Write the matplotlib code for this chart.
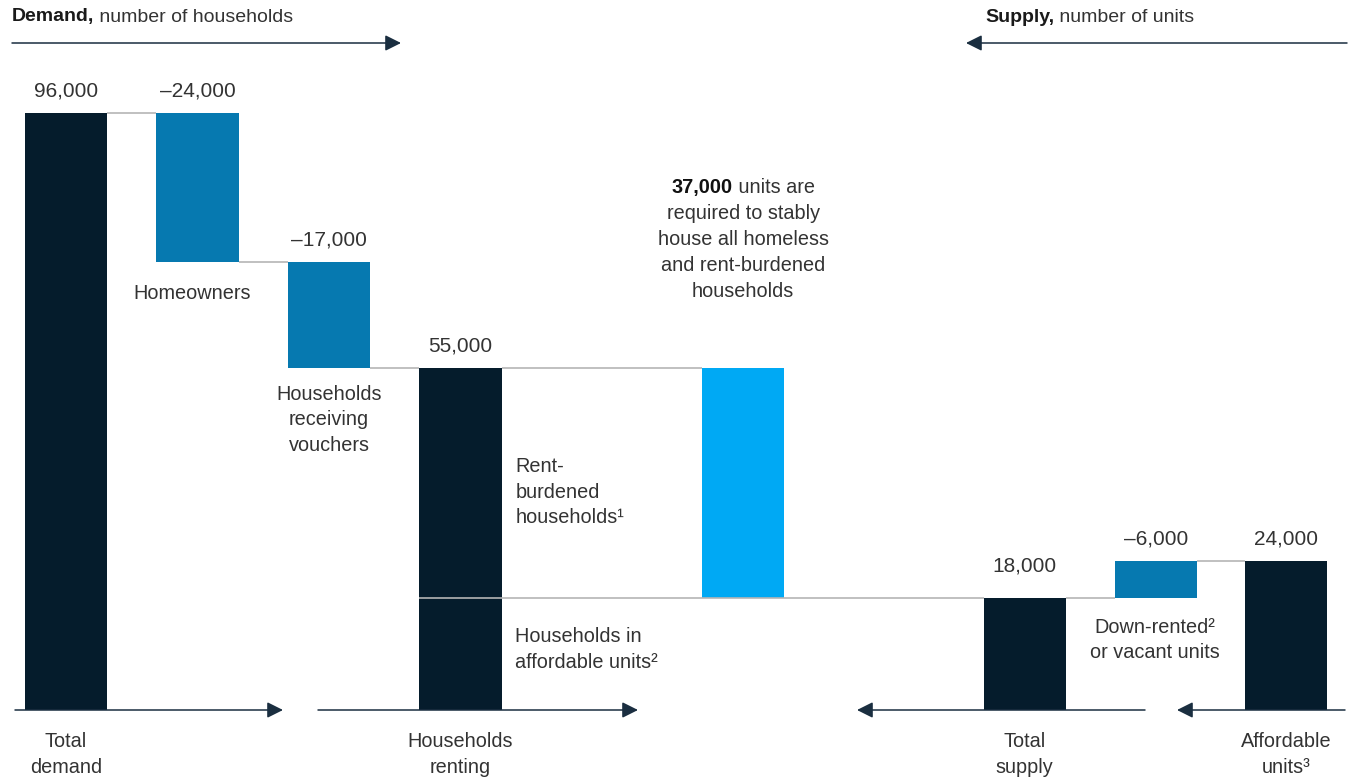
import matplotlib
matplotlib.use('Agg')
import matplotlib.pyplot as plt
from matplotlib.transforms import blended_transform_factory

# ------------------------------------------------------------
# Data
# ------------------------------------------------------------
categories = ['Total demand', 'Homeowners', 'Households receiving vouchers',
              'Households renting', 'Gap', 'Total supply',
              'Down-rented or vacant units', 'Affordable units']
values = [96000, -24000, -17000, 55000, 37000, 18000, -6000, 24000]
kinds = ['total', 'delta', 'delta', 'total', 'gap', 'total', 'delta', 'total']
renting_affordable = 18000   # households in affordable units (lower part of renting bar)

# ------------------------------------------------------------
# Styling / layout
# ------------------------------------------------------------
NAVY = '#051c2c'
MID_BLUE = '#0679b0'
LIGHT_BLUE = '#00a9f4'
GREY = '#b5b5b5'
TEXT = '#333333'
ARROW = '#1a2e40'

plt.rcParams['font.family'] = ['Liberation Sans', 'DejaVu Sans']

FS = 14.3        # label font size
LS = 1.45        # line spacing for multi-line labels

xpos = [0, 1, 2, 3, 5.15, 7.29, 8.29, 9.28]
width = 0.624

# ------------------------------------------------------------
# Bar extents (bottom, top) for the waterfall
# ------------------------------------------------------------
bottoms, tops = [], []
level = 0
for i, (v, k) in enumerate(zip(values, kinds)):
  if k == 'total':
    b, t = 0, v
    level = v
  elif k == 'gap':
    b, t = values[5], values[5] + v
  else:
    if i < 4:
      b, t = level + v, level
      level = level + v
    else:
      # supply side reads right to left: affordable units minus down-rented
      b, t = values[i + 1] + v, values[i + 1]
  bottoms.append(b)
  tops.append(t)

colors = [{'total': NAVY, 'delta': MID_BLUE, 'gap': LIGHT_BLUE}[k] for k in kinds]

# ------------------------------------------------------------
# Figure
# ------------------------------------------------------------
fig = plt.figure(figsize=(13.56, 7.8), dpi=100)
ax = fig.add_axes([0, 0, 1, 1])
ax.set_xlim(-0.502, 9.81)
ax.set_ylim(-11256, 114170)
ax.axis('off')

heights = [t - b for b, t in zip(bottoms, tops)]
ax.bar(xpos, heights, bottom=bottoms, width=width, color=colors, zorder=2)

# Connector lines between bars
def connector(x0, x1, y, z=1):
  ax.plot([x0, x1], [y, y], color=GREY, lw=1.2, zorder=z, solid_capstyle='butt')

hw = width / 2
connector(xpos[0] + hw, xpos[1] - hw, tops[0])
connector(xpos[1] + hw, xpos[2] - hw, bottoms[1])
connector(xpos[2] + hw, xpos[3] - hw, bottoms[2])
connector(xpos[3] + hw, xpos[4] - hw, tops[3])
connector(xpos[3] - hw, xpos[5] - hw, renting_affordable, z=3)
connector(xpos[5] + hw, xpos[6] - hw, tops[5])
connector(xpos[6] + hw, xpos[7] - hw, tops[7])

# Value labels above bars
for i, (v, k) in enumerate(zip(values, kinds)):
  if k == 'gap':
    continue
  label = f'{v:,}'.replace('-', '\u2013')
  dy = 16 if i == 5 else 9
  ax.annotate(label, (xpos[i], tops[i]), xytext=(0, dy), textcoords='offset points',
              ha='center', va='bottom', fontsize=15, color=TEXT)

def label(txt, xy, off, ha='center'):
  ax.annotate(txt, xy, xytext=off, textcoords='offset points', ha=ha, va='top',
              fontsize=FS, color=TEXT, linespacing=LS)

# Category labels below the baseline
bottom_labels = {0: 'Total\ndemand', 3: 'Households\nrenting', 5: 'Total\nsupply', 7: 'Affordable\nunits\u00b3'}
for i, txt in bottom_labels.items():
  label(txt, (xpos[i], 0), (0, -16))

# Labels for the step bars
label('Homeowners', (xpos[1], bottoms[1]), (-4, -16))
label('Households\nreceiving\nvouchers', (xpos[2], bottoms[2]), (0, -12))
label('Down-rented\u00b2\nor vacant units', (xpos[6], bottoms[6]), (-1, -14))
label('Rent-\nburdened\nhouseholds\u00b9', (xpos[3] + hw, tops[3]), (10, -64), ha='left')
label('Households in\naffordable units\u00b2', (xpos[3] + hw, renting_affordable), (10, -21), ha='left')

# Gap callout: bold figure on the first line, the rest centred underneath
gap_x = xpos[4]
callout = ['required to stably', 'house all homeless', 'and rent-burdened', 'households']
for j, line in enumerate(callout):
  ax.annotate(line, (gap_x, tops[4]), xytext=(0, 111 - 18.6 * j), textcoords='offset points',
              ha='center', va='center', fontsize=FS, color=TEXT)
fig.canvas.draw()
renderer = fig.canvas.get_renderer()
t_bold = ax.annotate(f'{values[4]:,}', (gap_x, tops[4]), xytext=(0, 129.6), textcoords='offset points',
                     ha='left', va='center', fontsize=FS, color='#111111', fontweight='bold')
t_rest = ax.annotate(' units are', (gap_x, tops[4]), xytext=(0, 129.6), textcoords='offset points',
                     ha='left', va='center', fontsize=FS, color=TEXT)
w_bold = t_bold.get_window_extent(renderer).width
w_rest = t_rest.get_window_extent(renderer).width
shift = (w_bold + w_rest) / 2 * 72 / fig.dpi
t_bold.xyann = (-shift, 129.6)
t_rest.xyann = (-shift + w_bold * 72 / fig.dpi, 129.6)

# Baseline arrows
base = blended_transform_factory(ax.transAxes, ax.transData)
arrow_kw = dict(arrowstyle='-|>', color=ARROW, lw=1.1, mutation_scale=24, shrinkA=0, shrinkB=0)
for x0, x1 in [(15, 283), (318, 638), (1145, 857), (1345, 1177)]:
  ax.annotate('', xy=(x1 / 1356, 0), xytext=(x0 / 1356, 0), xycoords=base, textcoords=base,
              arrowprops=arrow_kw)

# Header arrows and titles
for x0, x1 in [(12, 401), (1347, 966)]:
  ax.annotate('', xy=(x1 / 1356, 1 - 43 / 780), xytext=(x0 / 1356, 1 - 43 / 780),
              xycoords='axes fraction', textcoords='axes fraction', arrowprops=arrow_kw)

def header(x, bold, rest):
  tb = fig.text(x / 1356, 1 - 17 / 780, bold, fontsize=14, fontweight='bold', color='#1a1a1a',
                ha='left', va='center')
  wb = tb.get_window_extent(renderer).width
  fig.text((x + wb) / 1356, 1 - 17 / 780, ' ' + rest, fontsize=14, color=TEXT,
           ha='left', va='center')

header(12, 'Demand,', 'number of households')
header(985, 'Supply,', 'number of units')

fig.savefig('out.png', dpi=100)
